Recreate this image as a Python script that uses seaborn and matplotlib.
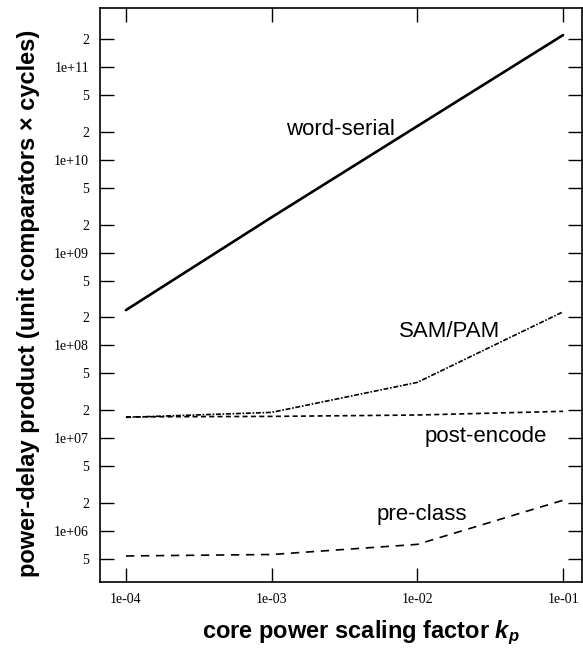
import matplotlib
matplotlib.use("Agg")
import matplotlib.pyplot as plt
import pandas as pd
import seaborn as sns

# ---------------------------------------------------------------
# Data
# ---------------------------------------------------------------
kp = [1e-4, 1e-3, 1e-2, 1e-1]
word_serial = [2.4e8, 2.4e9, 2.3e10, 2.2e11]
sam_pam = [1.68e7, 1.9e7, 4.0e7, 2.3e8]
post_encode = [1.7e7, 1.72e7, 1.78e7, 1.95e7]
pre_class = [5.4e5, 5.6e5, 7.2e5, 2.15e6]

curve_names = ["word-serial", "SAM/PAM", "post-encode", "pre-class"]

x_ticks = [1e-4, 1e-3, 1e-2, 1e-1]
x_tick_labels = ["1e-04", "1e-03", "1e-02", "1e-01"]
y_ticks = [5e5, 1e6, 2e6, 5e6, 1e7, 2e7, 5e7, 1e8, 2e8, 5e8,
           1e9, 2e9, 5e9, 1e10, 2e10, 5e10, 1e11, 2e11]
y_tick_labels = ["5", "1e+06", "2", "5", "1e+07", "2", "5", "1e+08", "2", "5",
                 "1e+09", "2", "5", "1e+10", "2", "5", "1e+11", "2"]

df = pd.DataFrame({
    "kp": kp * 4,
    "pdp": word_serial + sam_pam + post_encode + pre_class,
    "curve": [n for n in curve_names for _ in kp],
})

sns.set_style("ticks")
plt.rcParams["font.family"] = ["Liberation Sans", "DejaVu Sans"]
plt.rcParams["text.color"] = "black"
plt.rcParams["axes.labelcolor"] = "black"
plt.rcParams["mathtext.fontset"] = "custom"
plt.rcParams["mathtext.rm"] = "Liberation Sans:bold"
plt.rcParams["mathtext.it"] = "Liberation Sans:italic:bold"
plt.rcParams["mathtext.bf"] = "Liberation Sans:bold"
plt.rcParams["mathtext.bfit"] = "Liberation Sans:italic:bold"

fig = plt.figure(figsize=(5.83, 6.52), dpi=100)
ax = fig.add_axes([100 / 583, 1 - 582 / 652, 482 / 583, 574 / 652])

dashes = {
    "word-serial": "",
    "SAM/PAM": (3, 1, 1, 1),
    "post-encode": (3, 2),
    "pre-class": (5, 4),
}
sns.lineplot(data=df, x="kp", y="pdp", style="curve", dashes=dashes,
             color="black", linewidth=1.2, legend=False, ax=ax)
for line in ax.lines:
    if line.get_linestyle() == "-":
        line.set_linewidth(1.9)

ax.set_xscale("log")
ax.set_yscale("log")
ax.set_xlim(10 ** -4.178, 10 ** -0.870)
ax.set_ylim(10 ** 5.452, 10 ** 11.634)

ax.set_xticks(x_ticks)
ax.set_xticklabels(x_tick_labels, family="Liberation Serif", fontsize=10)
ax.set_yticks(y_ticks)
ax.set_yticklabels(y_tick_labels, family="Liberation Serif", fontsize=10)
ax.minorticks_off()
ax.tick_params(direction="in", length=10, width=1, top=True, right=True,
               pad=8, colors="black")
for s in ax.spines.values():
    s.set_linewidth(1.2)
    s.set_color("black")

# curve labels
ax.text(0.498, 0.779, "word-serial", transform=ax.transAxes, ha="center",
        va="baseline", fontsize=16)
ax.text(0.725, 0.427, "SAM/PAM", transform=ax.transAxes, ha="center",
        va="baseline", fontsize=16)
ax.text(0.801, 0.244, "post-encode", transform=ax.transAxes, ha="center",
        va="baseline", fontsize=16)
ax.text(0.667, 0.108, "pre-class", transform=ax.transAxes, ha="center",
        va="baseline", fontsize=16)

ax.set_xlabel(r"core power scaling factor $\mathbfit{k_p}$", fontsize=17,
              fontweight="bold", va="center")
ax.xaxis.set_label_coords((361 - 100) / 482, -(633 - 582) / 574)
ax.set_ylabel("power-delay product (unit comparators \u00d7 cycles)",
              fontsize=17, fontweight="bold", va="center")
ax.yaxis.set_label_coords(-(100 - 29) / 482, 0.485)

fig.savefig("out.png", dpi=100)
